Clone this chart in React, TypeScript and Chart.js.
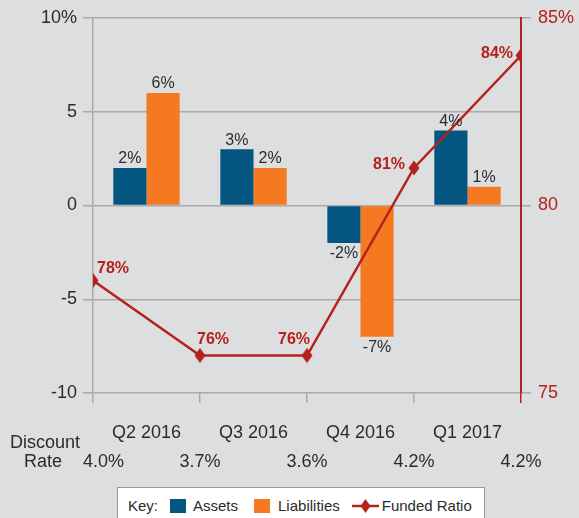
import { useEffect, useRef } from 'react';
import { Chart, registerables } from 'chart.js';
Chart.register(...registerables);

const categories = ['Q2 2016', 'Q3 2016', 'Q4 2016', 'Q1 2017'];
const assets = [2, 3, -2, 4];
const liabilities = [6, 2, -7, 1];
const fundedRatio = [78, 76, 76, 81, 84];
const discountRates = ['4.0%', '3.7%', '3.6%', '4.2%', '4.2%'];

const BLUE = '#02567f';
const ORANGE = '#f47920';
const RED = '#b5221c';
const GRID = '#a9aaac';
const TEXT = '#2b2b2b';
const BG = '#dddee0';
const FONT = '"Liberation Sans", Arial, Helvetica, sans-serif';

// label placement for funded ratio points: [dx, dy, align]
const lineLabelPlace: [number, number, CanvasTextAlign][] = [
  [4, -12, 'left'],
  [-3, -16, 'left'],
  [3, -16, 'right'],
  [-9, -3, 'right'],
  [-8, -2, 'right'],
];

function makeDiamond(): HTMLCanvasElement {
  const c = document.createElement('canvas');
  c.width = 12;
  c.height = 16;
  const g = c.getContext('2d')!;
  g.fillStyle = RED;
  g.beginPath();
  g.moveTo(6, 0.5);
  g.lineTo(11.5, 8);
  g.lineTo(6, 15.5);
  g.lineTo(0.5, 8);
  g.closePath();
  g.fill();
  return c;
}

const labelPlugin = {
  id: 'labels',
  afterDatasetsDraw(chart: any) {
    const ctx = chart.ctx;
    ctx.save();
    [0, 1].forEach((di) => {
      const meta = chart.getDatasetMeta(di);
      const vals = di === 0 ? assets : liabilities;
      meta.data.forEach((el: any, i: number) => {
        const v = vals[i];
        ctx.font = `16px ${FONT}`;
        ctx.fillStyle = TEXT;
        ctx.textAlign = 'center';
        if (v >= 0) {
          ctx.textBaseline = 'bottom';
          ctx.fillText(`${v}%`, el.x, el.y - 1);
        } else {
          ctx.textBaseline = 'top';
          ctx.fillText(`${v}%`, el.x, el.y + 3);
        }
      });
    });
    const lmeta = chart.getDatasetMeta(2);
    lmeta.data.forEach((el: any, i: number) => {
      const [dx, dy, align] = lineLabelPlace[i];
      ctx.font = `bold 16px ${FONT}`;
      ctx.fillStyle = RED;
      ctx.textAlign = align;
      ctx.textBaseline = 'middle';
      ctx.fillText(`${fundedRatio[i]}%`, el.x + dx, el.y + dy);
    });
    const xs = chart.scales.x;
    const bottom = chart.chartArea.bottom;
    ctx.font = `18px ${FONT}`;
    ctx.fillStyle = TEXT;
    ctx.textBaseline = 'middle';
    ctx.textAlign = 'center';
    ctx.fillText('Discount', 45, bottom + 50);
    ctx.fillText('Rate', 43, bottom + 69);
    discountRates.forEach((r, i) => {
      const px = xs.getPixelForValue(i);
      if (i === 0) {
        ctx.textAlign = 'left';
        ctx.fillText(r, px - 10, bottom + 69);
      } else {
        ctx.textAlign = 'center';
        ctx.fillText(r, px, bottom + 69);
      }
    });
    ctx.restore();
  },
};

export default function App() {
  const ref = useRef<HTMLCanvasElement | null>(null);
  useEffect(() => {
    document.body.style.margin = '0';
    const diamond = makeDiamond();
    const chart = new Chart(ref.current!, {
      type: 'bar',
      data: {
        labels: categories,
        datasets: [
          {
            label: 'Assets',
            data: assets.map((v, i) => ({ x: i + 0.5, y: v })),
            backgroundColor: BLUE,
            categoryPercentage: 0.62,
            barPercentage: 1,
            xAxisID: 'x',
            yAxisID: 'y',
            order: 2,
          } as any,
          {
            label: 'Liabilities',
            data: liabilities.map((v, i) => ({ x: i + 0.5, y: v })),
            backgroundColor: ORANGE,
            categoryPercentage: 0.62,
            barPercentage: 1,
            xAxisID: 'x',
            yAxisID: 'y',
            order: 2,
          } as any,
          {
            type: 'line',
            label: 'Funded Ratio',
            data: fundedRatio.map((v, i) => ({ x: i, y: v })),
            borderColor: RED,
            backgroundColor: RED,
            borderWidth: 2.5,
            pointStyle: diamond,
            pointRadius: 7,
            xAxisID: 'x',
            yAxisID: 'y2',
            order: 1,
          } as any,
        ],
      },
      options: {
        animation: false,
        responsive: false,
        maintainAspectRatio: false,
        layout: { padding: { top: 18, left: 0, right: 0, bottom: 0 } },
        plugins: { legend: { display: false }, tooltip: { enabled: false } },
        scales: {
          x: {
            type: 'linear',
            position: 'bottom',
            weight: 0,
            min: 0,
            max: 4,
            offset: false,
            grid: {
              offset: false,
              drawOnChartArea: false,
              drawTicks: true,
              tickLength: 10,
              lineWidth: 1.5,
              color: (c: any) => (c.index === 4 ? RED : GRID),
            },
            border: { display: false },
            ticks: { display: false, stepSize: 1 },
            afterFit: (s: any) => {
              s.height = 10;
            },
          },
          xl: {
            type: 'category',
            position: 'bottom',
            weight: 1,
            offset: true,
            grid: { display: false, drawTicks: false },
            border: { display: false },
            ticks: {
              color: TEXT,
              font: { family: FONT, size: 18 },
              padding: 19,
              maxRotation: 0,
            },
            afterFit: (s: any) => {
              s.height = 115;
            },
          },
          y: {
            position: 'left',
            min: -10,
            max: 10,
            ticks: {
              stepSize: 5,
              color: TEXT,
              font: { family: FONT, size: 18 },
              padding: 6,
              callback: (v: any) => (v === 10 ? '10%' : String(v)),
            },
            grid: { color: GRID, lineWidth: 1.5, tickLength: 10 },
            border: { color: GRID, width: 1.5 },
            afterFit: (s: any) => {
              s.width = 93;
            },
          },
          y2: {
            position: 'right',
            min: 75,
            max: 85,
            ticks: {
              stepSize: 5,
              color: RED,
              font: { family: FONT, size: 18 },
              padding: 7,
              callback: (v: any) => (v === 85 ? '85%' : String(v)),
            },
            grid: { drawOnChartArea: false, color: GRID, lineWidth: 1.5, tickLength: 10 },
            border: { color: RED, width: 2 },
            afterFit: (s: any) => {
              s.width = 58;
            },
          },
        },
      },
      plugins: [labelPlugin],
    });
    return () => chart.destroy();
  }, []);

  const item = { display: 'inline-block' } as const;
  return (
    <div
      style={{
        position: 'relative',
        width: 579,
        height: 518,
        background: BG,
        overflow: 'hidden',
        fontFamily: FONT,
      }}
    >
      <canvas ref={ref} width={579} height={518} style={{ display: 'block' }} />
      <div
        style={{
          position: 'absolute',
          left: 117,
          top: 487,
          width: 368,
          height: 40,
          background: '#fff',
          border: '1px solid #999',
          display: 'flex',
          alignItems: 'flex-start',
          paddingTop: 9,
          boxSizing: 'border-box',
          fontSize: 15,
          color: TEXT,
          lineHeight: '18px',
        }}
      >
        <span style={{ ...item, marginLeft: 10 }}>Key:</span>
        <span style={{ ...item, width: 16, height: 14, background: BLUE, marginLeft: 12, marginTop: 2 }} />
        <span style={{ ...item, marginLeft: 7 }}>Assets</span>
        <span style={{ ...item, width: 16, height: 14, background: ORANGE, marginLeft: 16, marginTop: 2 }} />
        <span style={{ ...item, marginLeft: 8 }}>Liabilities</span>
        <svg width={27} height={18} style={{ marginLeft: 12 }}>
          <line x1={0} y1={9} x2={27} y2={9} stroke={RED} strokeWidth={2.5} />
          <polygon points="13.5,2 18.5,9 13.5,16 8.5,9" fill={RED} />
        </svg>
        <span style={{ ...item, marginLeft: 3 }}>Funded Ratio</span>
      </div>
    </div>
  );
}
